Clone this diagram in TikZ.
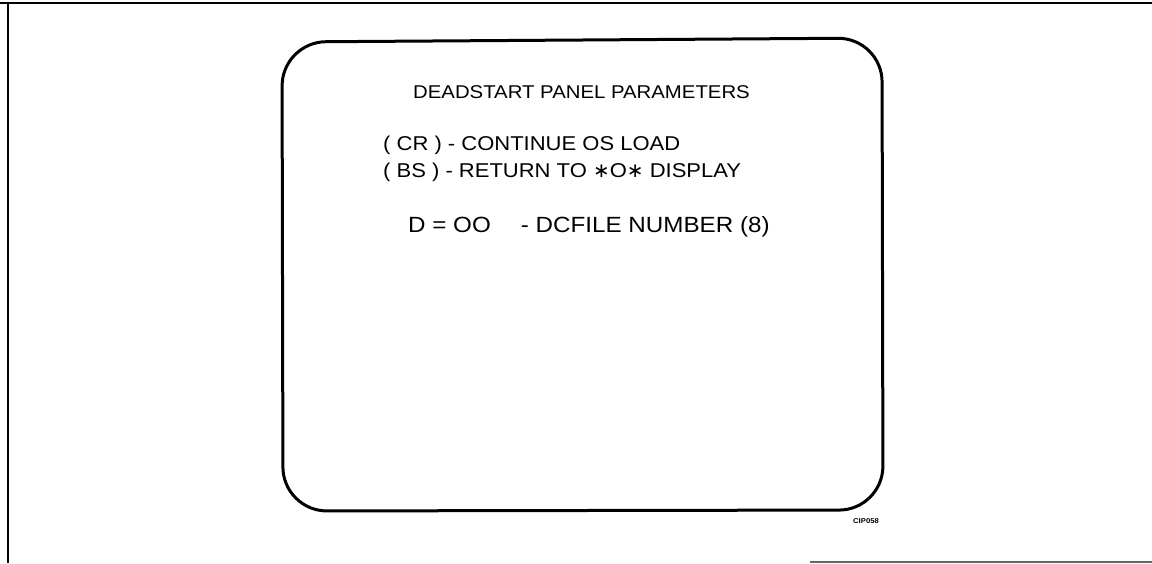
\documentclass[tikz,border=0pt]{standalone}
\usepackage{fontspec}
\newfontfamily\crtfont[FakeStretch=1.1]{Liberation Sans}
\newfontfamily\symfont{DejaVu Sans}

\begin{document}
\begin{tikzpicture}[x=1pt,y=-1pt]
        \useasboundingbox (0,0) rectangle (1152,563);
        % Cadre
        \draw[line width=1.6pt] (0,3) -- (1152,3);
        \draw[line width=1.6pt] (8,3) -- (8,563);
        \draw[line width=1.2pt, black!60] (810,562) -- (1152,562);
        % Ecran
        \draw[line width=3pt, rounded corners=44pt] (282,42) -- (882,38) -- (883,510) -- (283,511) -- cycle;
        % Textes
        \node[anchor=base west, inner sep=0pt] (titre) at (413,98) {\crtfont\fontsize{18.5}{18.5}\selectfont DEADSTART PANEL PARAMETERS};
        \node[anchor=base west, inner sep=0pt] (cr) at (383,150) {\crtfont\fontsize{20}{20}\selectfont ( CR ) - CONTINUE OS LOAD};
        \node[anchor=base west, inner sep=0pt] (bs) at (383,177) {\crtfont\fontsize{20}{20}\selectfont ( BS ) - RETURN TO {\symfont∗}O{\symfont∗} DISPLAY};
        \node[anchor=base west, inner sep=0pt] (dc) at (408,232) {\crtfont\fontsize{22}{22}\selectfont D = OO\hspace{30pt}- DCFILE NUMBER (8)};
        \node[inner sep=0pt] (ref) at (866,521) {\crtfont\bfseries\fontsize{7}{7}\selectfont CIP058};
\end{tikzpicture}
\end{document}
